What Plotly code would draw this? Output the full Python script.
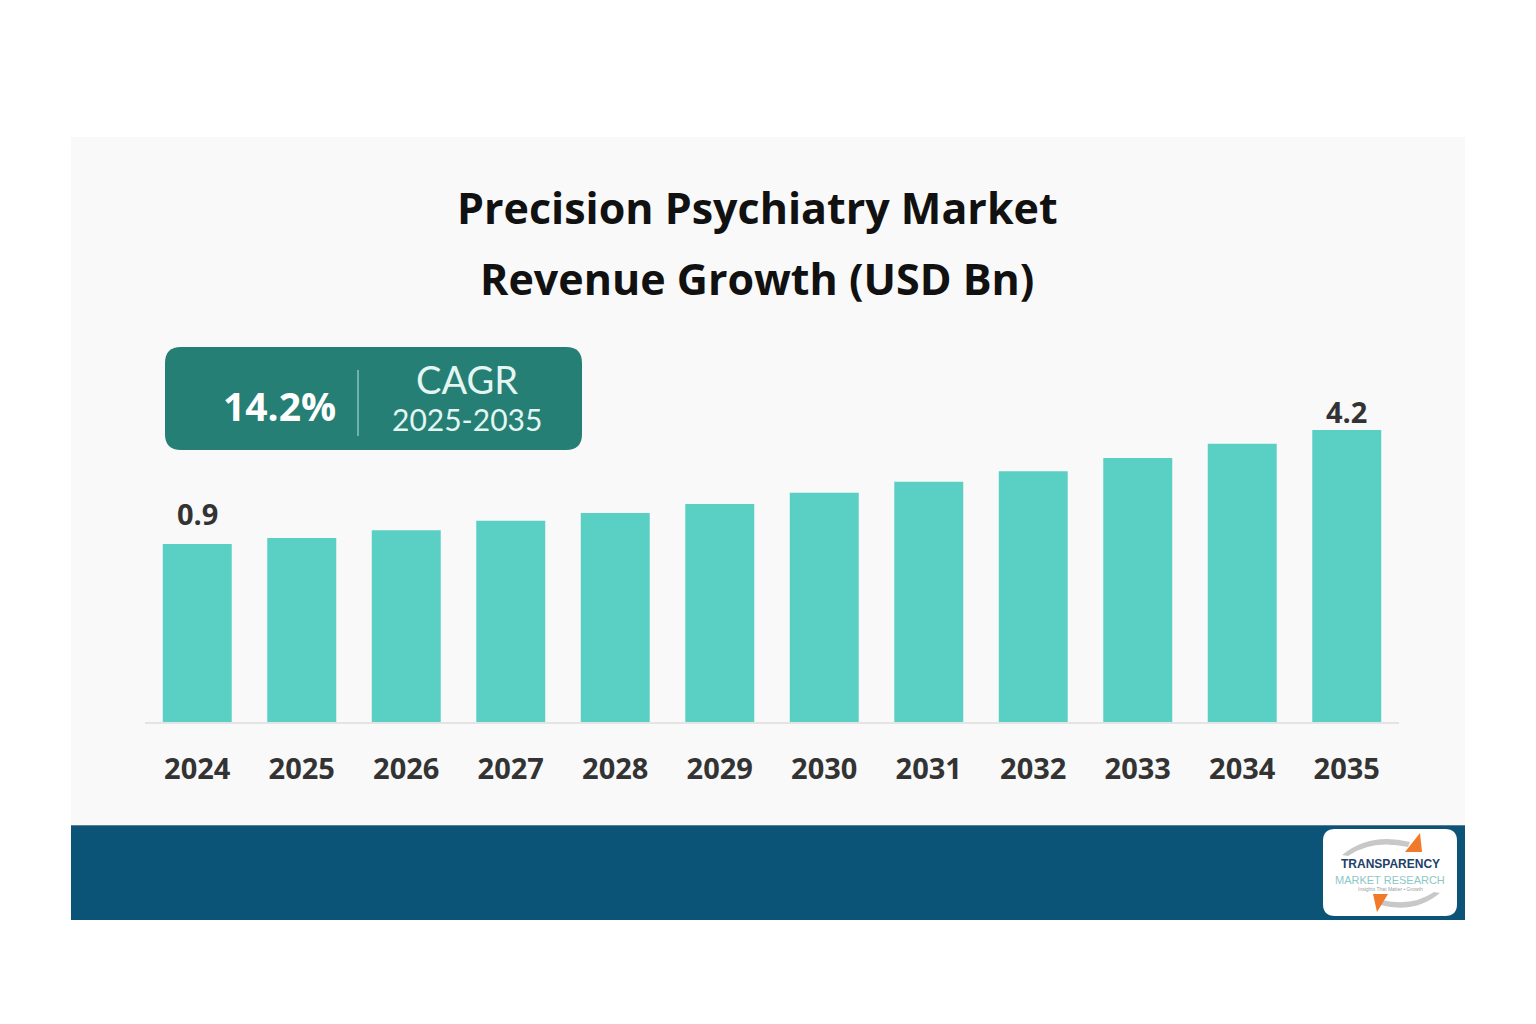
import plotly.graph_objects as go

# ---------------- data ----------------
years = ["2024", "2025", "2026", "2027", "2028", "2029",
         "2030", "2031", "2032", "2033", "2034", "2035"]
revenue = [0.9, 1.07, 1.30, 1.57, 1.80, 2.06, 2.38, 2.70, 3.01, 3.39, 3.80, 4.2]
shown_labels = ["0.9", "", "", "", "", "", "", "", "", "", "", "4.2"]
title_lines = ["Precision Psychiatry Market", "Revenue Growth (USD Bn)"]
cagr_value = "14.2%"
cagr_label = "CAGR"
cagr_period = "2025-2035"

# ---------------- styling / geometry ----------------
W, H = 1536, 1024
AXIS_FLOOR = -4.26   # visual baseline of the infographic (axis not from zero)
AXIS_TOP = 6.81
LABEL_SHIFT = {0: 9, 11: -3}   # pixel offsets of the value labels above bars


def px(x):
    return x / W


def py(y):
    return 1 - y / H


def rounded_rect(x0, y0, x1, y1, r):
    pts = [
        f"M {px(x0 + r)},{py(y0)}",
        f"L {px(x1 - r)},{py(y0)}",
        f"Q {px(x1)},{py(y0)} {px(x1)},{py(y0 + r)}",
        f"L {px(x1)},{py(y1 - r)}",
        f"Q {px(x1)},{py(y1)} {px(x1 - r)},{py(y1)}",
        f"L {px(x0 + r)},{py(y1)}",
        f"Q {px(x0)},{py(y1)} {px(x0)},{py(y1 - r)}",
        f"L {px(x0)},{py(y0 + r)}",
        f"Q {px(x0)},{py(y0)} {px(x0 + r)},{py(y0)}",
        "Z",
    ]
    return " ".join(pts)


BAR_COLOR = "#5acfc3"
TEAL_BOX = "#267f74"
NAVY = "#0b5478"
TEXT_DARK = "#333333"

fig = go.Figure()
fig.add_trace(go.Bar(
    x=years,
    y=[v - AXIS_FLOOR for v in revenue],
    base=AXIS_FLOOR,
    marker=dict(color=BAR_COLOR, line=dict(width=0)),
    hoverinfo="skip",
))

annotations = []
for i, (v, lab) in enumerate(zip(revenue, shown_labels)):
    if lab:
        annotations.append(dict(
            x=i, y=v, xref="x", yref="y", text=f"<b>{lab}</b>",
            showarrow=False, yanchor="bottom", yshift=LABEL_SHIFT.get(i, 6),
            font=dict(family="Open Sans", size=29, color=TEXT_DARK),
        ))

# title
for line, yc in zip(title_lines, [207, 278]):
    annotations.append(dict(x=px(757), y=py(yc), xref="paper", yref="paper",
                            text=f"<b>{line}</b>", showarrow=False,
                            xanchor="center", yanchor="middle",
                            font=dict(family="Open Sans", size=43, color="#111111")))

# CAGR box texts
annotations.append(dict(x=px(279), y=py(405), xref="paper", yref="paper",
                        text=f"<b>{cagr_value}</b>", showarrow=False,
                        xanchor="center", yanchor="middle",
                        font=dict(family="Open Sans", size=39, color="#ffffff")))
annotations.append(dict(x=px(467), y=py(379), xref="paper", yref="paper",
                        text=cagr_label, showarrow=False,
                        xanchor="center", yanchor="middle",
                        font=dict(family="Lato", size=38, color="#e3f6f2")))
annotations.append(dict(x=px(467), y=py(419), xref="paper", yref="paper",
                        text=cagr_period, showarrow=False,
                        xanchor="center", yanchor="middle",
                        font=dict(family="Lato", size=30, color="#e3f6f2")))

# logo texts
annotations.append(dict(x=px(1390), y=py(864), xref="paper", yref="paper",
                        text="<b>TRANSPARENCY</b>", showarrow=False,
                        xanchor="center", yanchor="middle",
                        font=dict(family="Liberation Sans", size=12, color="#23406a")))
annotations.append(dict(x=px(1390), y=py(880), xref="paper", yref="paper",
                        text="MARKET RESEARCH", showarrow=False,
                        xanchor="center", yanchor="middle",
                        font=dict(family="Liberation Sans", size=11, color="#8cc7c6")))
annotations.append(dict(x=px(1390), y=py(889), xref="paper", yref="paper",
                        text="Insights That Matter • Growth", showarrow=False,
                        xanchor="center", yanchor="middle",
                        font=dict(family="Liberation Sans", size=5, color="#9aa0a6")))

shapes = [
    dict(type="rect", xref="paper", yref="paper", x0=px(71), x1=px(1465),
         y0=py(825), y1=py(137), fillcolor="#f9f9f9", line=dict(width=0), layer="below"),
    dict(type="rect", xref="paper", yref="paper", x0=px(71), x1=px(1465),
         y0=py(920), y1=py(825), fillcolor=NAVY, line=dict(width=0), layer="below"),
    dict(type="line", xref="paper", yref="paper", x0=px(71), x1=px(1465),
         y0=py(825.5), y1=py(825.5), line=dict(color="#5d7f90", width=1), layer="below"),
    dict(type="path", xref="paper", yref="paper", path=rounded_rect(165, 347, 582, 450, 16),
         fillcolor=TEAL_BOX, line=dict(width=0), layer="above"),
    dict(type="line", xref="paper", yref="paper", x0=px(358), x1=px(358),
         y0=py(370), y1=py(436), line=dict(color="#6fb3a9", width=2), layer="above"),
    dict(type="path", xref="paper", yref="paper", path=rounded_rect(1323, 829, 1457, 916, 12),
         fillcolor="#ffffff", line=dict(width=0), layer="above"),
    dict(type="path", xref="paper", yref="paper",
         path=f"M {px(1342)},{py(855)} Q {px(1370)},{py(832)} {px(1410)},{py(842)} "
              f"L {px(1408)},{py(847)} Q {px(1372)},{py(839)} {px(1348)},{py(856)} Z",
         fillcolor="#c8c8c8", line=dict(width=0), layer="above"),
    dict(type="path", xref="paper", yref="paper",
         path=f"M {px(1440)},{py(893)} Q {px(1415)},{py(914)} {px(1380)},{py(905)} "
              f"L {px(1382)},{py(900)} Q {px(1412)},{py(907)} {px(1434)},{py(892)} Z",
         fillcolor="#c8c8c8", line=dict(width=0), layer="above"),
    dict(type="path", xref="paper", yref="paper",
         path=f"M {px(1405)},{py(852)} L {px(1420)},{py(833)} L {px(1422)},{py(852)} Z",
         fillcolor="#f07a2a", line=dict(width=0), layer="above"),
    dict(type="path", xref="paper", yref="paper",
         path=f"M {px(1373)},{py(894)} L {px(1388)},{py(894)} L {px(1377)},{py(912)} Z",
         fillcolor="#f07a2a", line=dict(width=0), layer="above"),
]

fig.update_layout(
    width=W, height=H,
    margin=dict(l=0, r=0, t=0, b=0),
    paper_bgcolor="#ffffff",
    plot_bgcolor="rgba(0,0,0,0)",
    showlegend=False,
    bargap=0.34,
    annotations=annotations,
    shapes=shapes,
    xaxis=dict(
        domain=[px(145), px(1399)],
        type="category",
        categoryorder="array", categoryarray=years,
        range=[-0.5, len(years) - 0.5], autorange=False,
        showgrid=False, zeroline=False,
        showline=True, linecolor="#e4e4e4", linewidth=2,
        ticks="outside", ticklen=20, tickcolor="rgba(0,0,0,0)",
        tickfont=dict(family="Open Sans", size=29, color=TEXT_DARK),
        tickprefix="<b>", ticksuffix="</b>",
        automargin=False, fixedrange=True,
    ),
    yaxis=dict(
        domain=[py(722), py(340)],
        range=[AXIS_FLOOR, AXIS_TOP], autorange=False,
        visible=False, showgrid=False, zeroline=False,
        automargin=False, fixedrange=True,
    ),
)

fig.write_html("out.html", config={"displayModeBar": False})
